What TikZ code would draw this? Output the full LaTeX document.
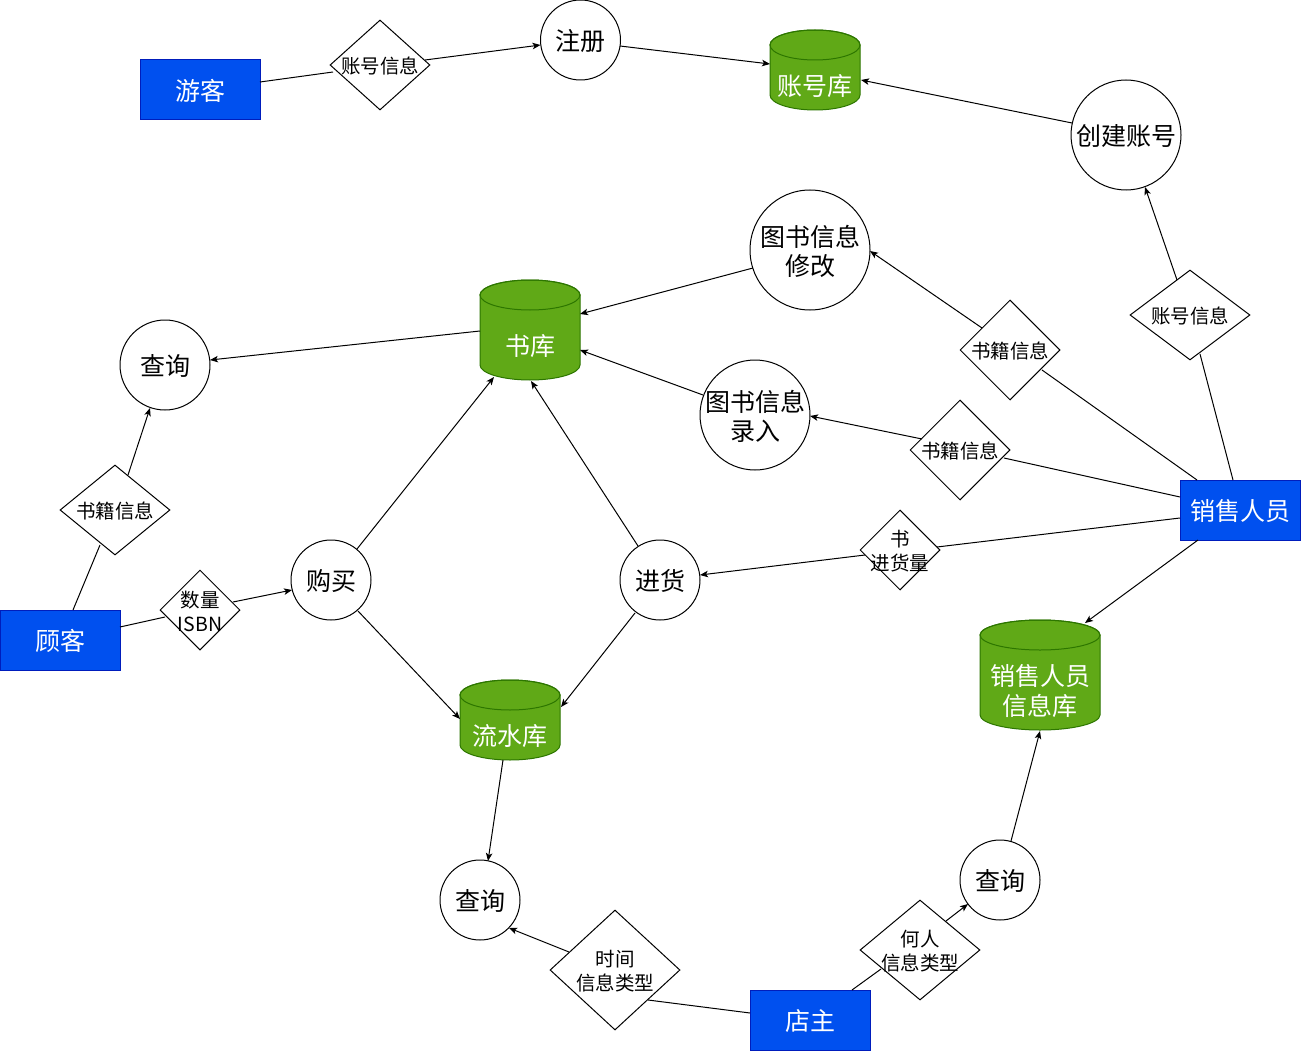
\documentclass[tikz,border=0pt]{standalone}
\usepackage{fontspec}
\setmainfont{Noto Sans CJK SC}
\usetikzlibrary{shapes.geometric,arrows.meta,calc}
\definecolor{actorblue}{HTML}{0050EF}
\definecolor{actorline}{HTML}{001DBC}
\definecolor{dbgreen}{HTML}{60A917}
\definecolor{dbline}{HTML}{2D7600}
\tikzset{
  bigtxt/.style={font=\fontsize{25}{30}\selectfont, align=center, yshift=-1pt},
  smalltxt/.style={font=\fontsize{19.5}{24}\selectfont, align=center, yshift=-1pt},
  actor/.style={rectangle, draw=actorline, fill=actorblue, text=white, minimum width=120pt, minimum height=60pt, inner sep=0pt, line width=1pt, font=\fontsize{25}{30}\selectfont, text depth=-1pt},
  proc/.style={circle, draw=black, fill=white, inner sep=0pt, line width=1pt},
  flow/.style={diamond, draw=black, fill=white, inner sep=0pt, line width=1pt},
  cylbody/.style={fill=dbgreen, draw=dbline, line width=1pt},
  cyledge/.style={draw=dbline, line width=1pt},
  cylnode/.style={rectangle, inner sep=0pt},
  cyltext/.style={text=white, bigtxt, inner sep=0pt},
  conn/.style={draw=black, line width=1pt},
  arr/.style={conn, -{Stealth[length=8pt,width=6.5pt,inset=2pt]}},
}
\newcommand\dbcyl[6]{%
  \path[cylbody] ({#2-#4/2},{#3-#5/2+15}) -- ({#2-#4/2},{#3+#5/2-15})
     arc[start angle=180,end angle=0,x radius={#4/2},y radius=15]
     -- ({#2+#4/2},{#3-#5/2+15})
     arc[start angle=0,end angle=-180,x radius={#4/2},y radius=15] -- cycle;
  \draw[cyledge] ({#2},{#3-#5/2+15}) ellipse[x radius={#4/2},y radius=15];
  \node[cylnode, minimum width=#4pt, minimum height=#5pt] (#1) at (#2,#3) {};
  \node[cyltext] (#1-text) at (#2,{#3+15}) {#6};
}
\begin{document}
\begin{tikzpicture}[x=1pt,y=-1pt]
\useasboundingbox (0,0) rectangle (1301,1051);
\fill[white] (0,0) rectangle (1301,1051);

% actors
\node[actor] (youke) at (200,90) {游客};
\node[actor] (guke) at (60,640) {顾客};
\node[actor] (sales) at (1240,510) {销售人员};
\node[actor] (dianzhu) at (810,1020) {店主};

% data stores
\dbcyl{zhk}{815}{70}{90}{80}{账号库}
\dbcyl{shuku}{530}{330}{100}{100}{书库}
\dbcyl{xsdb}{1040}{675}{120}{110}{销售人员\\信息库}
\dbcyl{liushui}{510}{720}{100}{80}{流水库}

% processes
\node[proc, minimum size=80pt, label={[bigtxt]center:注册}] (zhuce) at (580.5,40) {};
\node[proc, minimum size=110pt, label={[bigtxt]center:创建账号}] (chuangjian) at (1126,135) {};
\node[proc, minimum size=120pt, label={[bigtxt, font=\fontsize{25}{29}\selectfont]center:图书信息\\修改}] (xiugai) at (810,250) {};
\node[proc, minimum size=110pt, label={[bigtxt, font=\fontsize{25}{29}\selectfont]center:图书信息\\录入}] (luru) at (755,415) {};
\node[proc, minimum size=90pt, label={[bigtxt]center:查询}] (chaxun1) at (165,365) {};
\node[proc, minimum size=80pt, label={[bigtxt]center:购买}] (goumai) at (331,580) {};
\node[proc, minimum size=80pt, label={[bigtxt]center:进货}] (jinhuo) at (660,580) {};
\node[proc, minimum size=80pt, label={[bigtxt]center:查询}] (chaxun2) at (480,900) {};
\node[proc, minimum size=80pt, label={[bigtxt]center:查询}] (chaxun3) at (1000,880) {};

% data flows (diamonds)
\node[flow, minimum width=100pt, minimum height=90pt, label={[smalltxt]center:账号信息}] (d1) at (380,65) {};
\node[flow, minimum width=120pt, minimum height=90pt, label={[smalltxt]center:账号信息}] (d2) at (1190,315) {};
\node[flow, minimum width=100pt, minimum height=100pt, label={[smalltxt]center:书籍信息}] (d3) at (1010,350) {};
\node[flow, minimum width=100pt, minimum height=100pt, label={[smalltxt]center:书籍信息}] (d4) at (960,450) {};
\node[flow, minimum width=110pt, minimum height=90pt, label={[smalltxt]center:书籍信息}] (d5) at (115,510) {};
\node[flow, minimum width=80pt, minimum height=80pt, label={[smalltxt]center:数量\\ISBN}] (d6) at (200,610) {};
\node[flow, minimum width=80pt, minimum height=80pt, label={[smalltxt]center:书\\进货量}] (d7) at (900,550) {};
\node[flow, minimum width=130pt, minimum height=120pt, label={[smalltxt]center:时间\\信息类型}] (d8) at (615,970) {};
\node[flow, minimum width=120pt, minimum height=100pt, label={[smalltxt]center:何人\\信息类型}] (d9) at (920,950) {};

% connectors
\draw[conn] ($(youke)+(60,-8)$) -- ($(d1)+(-47,7)$);
\draw[arr] ($(d1)+(45,-5)$) -- ($(zhuce)+(-40,5)$);
\draw[arr] ($(zhuce)+(39.5,6)$) -- ($(zhk)+(-45,-6)$);
\draw[arr] ($(chuangjian)+(-54,-12)$) -- ($(zhk)+(46,10)$);
\draw[conn] ($(sales)+(-7,-30)$) -- ($(d2)+(10,39)$);
\draw[arr] ($(d2)+(-13,-35)$) -- ($(chuangjian)+(19,52)$);
\draw[conn] ($(sales)+(-43,-30)$) -- ($(d3)+(32,20)$);
\draw[arr] ($(d3)+(-28,-22)$) -- ($(xiugai)+(60,1)$);
\draw[arr] ($(xiugai)+(-57,18)$) -- ($(shuku)+(50,-16)$);
\draw[conn] ($(sales)+(-60,-13)$) -- ($(d4)+(44,8)$);
\draw[arr] ($(d4)+(-38,-11)$) -- ($(luru)+(55,1)$);
\draw[arr] ($(luru)+(-52,-20)$) -- ($(shuku)+(50,20)$);
\draw[arr] ($(shuku)+(-50,1)$) -- ($(chaxun1)+(45,-5)$);
\draw[conn] ($(guke)+(13,-30)$) -- ($(d5)+(-15,35)$);
\draw[arr] ($(d5)+(13,-35)$) -- ($(chaxun1)+(-15,43)$);
\draw[conn] ($(guke)+(60,-13)$) -- ($(d6)+(-35,7)$);
\draw[arr] ($(d6)+(33,-8)$) -- ($(goumai)+(-39,10)$);
\draw[arr] ($(goumai)+(26,-31)$) -- ($(shuku)+(-36,47)$);
\draw[arr] ($(goumai)+(27,31)$) -- ($(liushui)+(-50,-1)$);
\draw[arr] ($(jinhuo)+(-22,-34)$) -- ($(shuku)+(1,51)$);
\draw[arr] ($(jinhuo)+(-25,33)$) -- ($(liushui)+(51,-13)$);
\draw[conn] ($(sales)+(-60,8)$) -- ($(d7)+(37,-3)$);
\draw[arr] ($(d7)+(-35,5)$) -- ($(jinhuo)+(40,-5)$);
\draw[arr] ($(sales)+(-42,30)$) -- ($(xsdb)+(45,-52)$);
\draw[arr] ($(chaxun3)+(11,-39)$) -- ($(xsdb)+(0,56)$);
\draw[arr] ($(liushui)+(-7,40)$) -- ($(chaxun2)+(8,-39)$);
\draw[conn] ($(dianzhu)+(-60,-7)$) -- ($(d8)+(33,30)$);
\draw[arr] ($(d8)+(-46,-18)$) -- ($(chaxun2)+(29,28)$);
\draw[conn] ($(dianzhu)+(42,-30)$) -- ($(d9)+(-39,19)$);
\draw[arr] ($(d9)+(26,-29)$) -- ($(chaxun3)+(-32,24)$);
\end{tikzpicture}
\end{document}
